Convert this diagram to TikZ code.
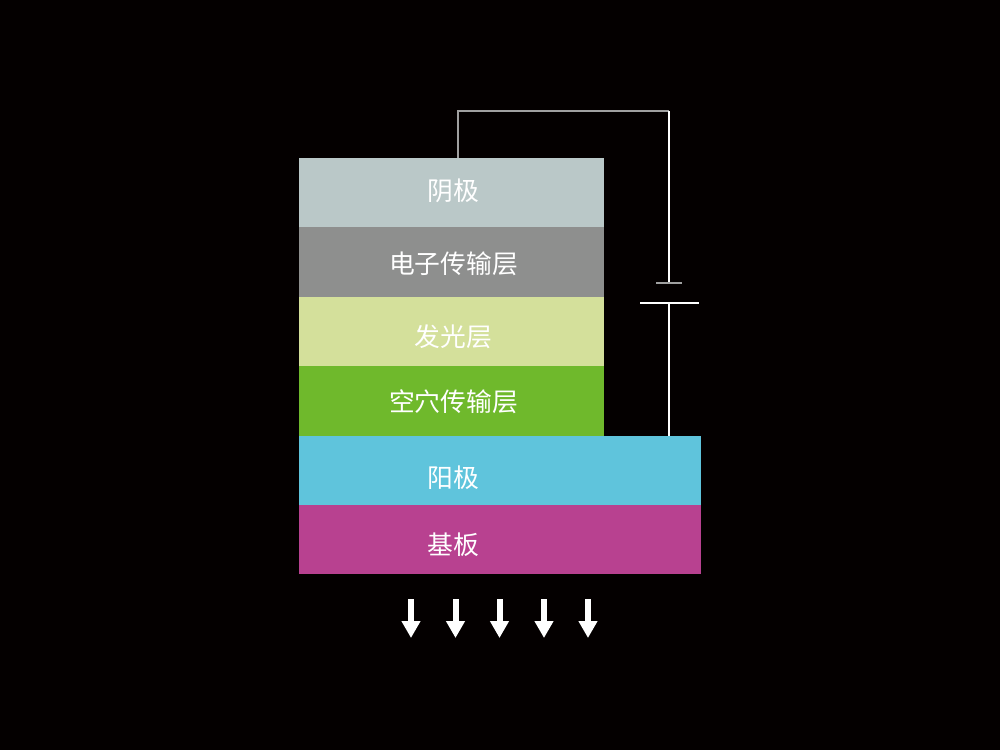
\documentclass[tikz,border=0pt]{standalone}
\usepackage{fontspec}
\setmainfont{Noto Sans CJK SC}[Scale=1]
\usetikzlibrary{arrows.meta}
\definecolor{bgc}{HTML}{040000}
\definecolor{cathodec}{HTML}{BAC8C8}
\definecolor{etlc}{HTML}{8E8F8E}
\definecolor{emlc}{HTML}{D4E09B}
\definecolor{htlc}{HTML}{6FB92C}
\definecolor{anodec}{HTML}{5FC4DC}
\definecolor{subc}{HTML}{B84190}
\definecolor{wiregray}{HTML}{A0A0A0}
\tikzset{
  layerbox/.style={draw=none,inner sep=0pt,outer sep=0pt,anchor=north west,minimum width=305pt},
  widebox/.style={layerbox,minimum width=402pt},
  lab/.style={text=white,inner sep=0pt,font=\fontsize{25.8pt}{25.8pt}\selectfont},
  wirethin/.style={draw=wiregray,line width=1.1pt},
  wirewhite/.style={draw=white,line width=1.6pt},
  lightarrow/.style={draw=white,line width=6pt,-{Triangle[length=17pt,width=18pt,fill=white]}}
}
\begin{document}
\begin{tikzpicture}[x=1pt,y=-1pt]
\useasboundingbox (0,0) rectangle (1000,750);
\fill[bgc] (0,0) rectangle (1000,750);
\node[layerbox,fill=cathodec,minimum height=69pt] (cathode) at (299,158) {};
\node[layerbox,fill=etlc,minimum height=70pt] (etl) at (299,227) {};
\node[layerbox,fill=emlc,minimum height=69pt] (eml) at (299,297) {};
\node[layerbox,fill=htlc,minimum height=70pt] (htl) at (299,366) {};
\node[widebox,fill=anodec,minimum height=69pt] (anode) at (299,436) {};
\node[widebox,fill=subc,minimum height=69pt] (substrate) at (299,505) {};
\node[lab] (t1) at (453.5,191) {阴极};
\node[lab] (t2) at (453.5,264) {电子传输层};
\node[lab] (t3) at (453.5,337) {发光层};
\node[lab] (t4) at (453.5,402) {空穴传输层};
\node[lab] (t5) at (453.5,478) {阳极};
\node[lab] (t6) at (453.5,545) {基板};
% battery
\coordinate (platetopL) at (656,283);
\coordinate (platetopR) at (682,283);
\coordinate (platetopM) at (669,283);
\coordinate (platebotL) at (640,303);
\coordinate (platebotR) at (698.5,303);
\coordinate (platebotM) at (669,303);
\coordinate (cornerA) at (458,111);
\coordinate (cornerB) at (669,111);
\coordinate (cathodeTap) at (458,158);
\coordinate (anodeTap) at (669,436);
\draw[wirethin] (cathodeTap) -- (cornerA) -- (cornerB);
\draw[wirewhite] (cornerB) -- (platetopM);
\draw[wirewhite] (platebotM) -- (anodeTap);
\draw[wirethin] (platetopL) -- (platetopR);
\draw[wirewhite] (platebotL) -- (platebotR);
% light arrows
\foreach \n/\x in {a/411,b/455.5,c/499.5,d/544,e/588}{
  \coordinate (s\n) at (\x,599);
  \coordinate (h\n) at (\x,638);
  \draw[lightarrow] (s\n) -- (h\n);
}
\end{tikzpicture}
\end{document}
